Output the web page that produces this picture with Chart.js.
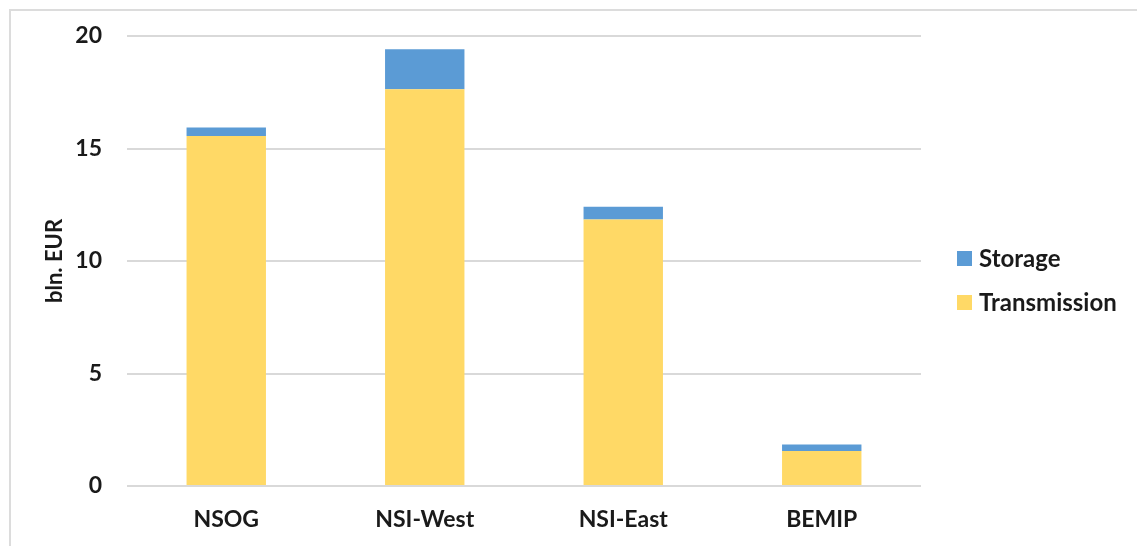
<!DOCTYPE html>
<html>
<head>
<meta charset="utf-8">
<script src="https://cdn.jsdelivr.net/npm/chart.js@4"></script>
<style>
  body { margin: 0; background: #fff; }
  #wrap { position: relative; width: 1137px; height: 546px; overflow: hidden; }
  #marco { position: absolute; left: 9px; top: 9px; width: 1200px; height: 600px; border: 2px solid #dcdcdc; }
  canvas { position: absolute; left: 0; top: 0; }
</style>
</head>
<body>
<div id="wrap">
  <div id="marco"></div>
  <canvas id="myChart" width="1137" height="546"></canvas>
</div>
<script>
// datos
const regiones = ['NSOG', 'NSI-West', 'NSI-East', 'BEMIP']
const transmision = [15.56, 17.63, 11.85, 1.56]
const almacenamiento = [0.37, 1.78, 0.56, 0.29]
const ticksY = [0, 5, 10, 15, 20]

const fuente = "Lato, 'Open Sans', sans-serif"

// leyenda dibujada a mano a la derecha (Storage arriba)
const leyenda = {
  id: 'leyenda',
  afterDraw(chart) {
    const c = chart.ctx
    const items = chart.data.datasets.slice().reverse()
    c.save()
    c.font = 'bold 24px ' + fuente
    c.textBaseline = 'middle'
    items.forEach((ds, i) => {
      const y = 258 + i * 44
      c.fillStyle = ds.backgroundColor
      c.fillRect(957, y - 7, 15, 15)
      c.fillStyle = '#1a1a1a'
      c.fillText(ds.label, 979, y + 1)
    })
    c.restore()
  }
}

const ctx = document.getElementById('myChart');
new Chart(ctx, {
  type: 'bar',
  data: {
    labels: regiones,
    datasets: [{
      label: 'Transmission',
      data: transmision,
      backgroundColor: '#FFD966'
    }, {
      label: 'Storage',
      data: almacenamiento,
      backgroundColor: '#5B9BD5'
    }]
  },
  options: {
    responsive: false,
    animation: false,
    layout: { padding: { left: 10, right: 216, top: 36, bottom: 0 } },
    datasets: { bar: { barPercentage: 0.4, categoryPercentage: 1 } },
    plugins: {
      legend: { display: false },
      tooltip: { enabled: false }
    },
    scales: {
      x: {
        stacked: true,
        grid: { display: false, drawTicks: false },
        border: { display: false },
        ticks: { color: '#1a1a1a', padding: 20, font: { family: fuente, size: 23, weight: 'bold' } },
        afterFit(s) { s.height = 60 }
      },
      y: {
        stacked: true,
        min: 0,
        max: 20,
        afterBuildTicks(s) { s.ticks = ticksY.map(v => ({ value: v })) },
        grid: { color: '#d9d9d9', lineWidth: 2, drawTicks: false },
        border: { display: false },
        ticks: { color: '#1a1a1a', padding: 25, font: { family: fuente, size: 23, weight: 'bold' } },
        title: {
          display: true,
          text: 'bln. EUR',
          color: '#1a1a1a',
          padding: { top: 32, bottom: 0 },
          font: { family: fuente, size: 22, weight: 'bold' }
        },
        afterFit(s) { s.width = 117; s.paddingTop = 0; s.paddingBottom = 0 }
      }
    }
  },
  plugins: [leyenda]
});
</script>
</body>
</html>
